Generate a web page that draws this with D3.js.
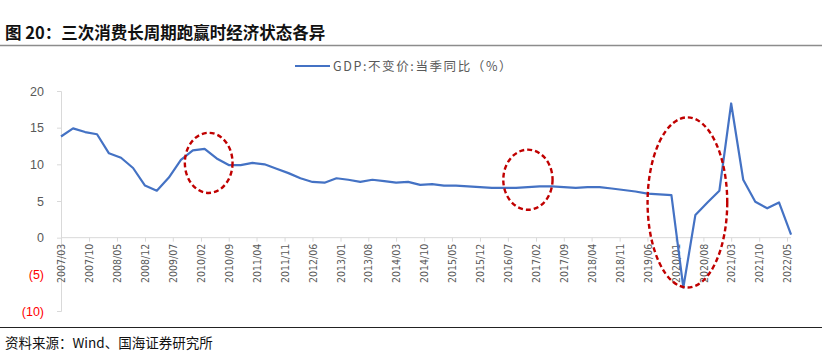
<!DOCTYPE html>
<html>
<head>
<meta charset="utf-8">
<script src="https://cdn.jsdelivr.net/npm/d3@7"></script>
<style>
  body { margin: 0; background: #fff; }
  svg { display: block; }
</style>
</head>
<body>
<svg id="chart"></svg>
<script>
// quarterly GDP yoy, 2007Q1 .. 2022Q2
const quarters = d3.range(0, 62).map(i => {
    const y = 2007 + Math.floor(i / 4), m = (i % 4) * 3 + 3;
    return y + "/" + (m < 10 ? "0" + m : m);
});
const gdpYoy = [
    13.8, 14.9, 14.4, 14.1, 11.5, 10.9, 9.5, 7.1,
    6.4, 8.2, 10.6, 11.9, 12.1, 10.8, 9.9, 9.9,
    10.2, 10.0, 9.4, 8.8, 8.1, 7.6, 7.5, 8.1,
    7.9, 7.6, 7.9, 7.7, 7.5, 7.6, 7.2, 7.3,
    7.1, 7.1, 7.0, 6.9, 6.8, 6.8, 6.8, 6.9,
    7.0, 7.0, 6.9, 6.8, 6.9, 6.9, 6.7, 6.5,
    6.3, 6.0, 5.9, 5.8, -6.8, 3.1, 4.8, 6.4,
    18.3, 7.9, 4.9, 4.0, 4.8, 0.4
];
const yTicks = [-10, -5, 0, 5, 10, 15, 20];
const seriesName = "GDP:不变价:当季同比（%）";

// dashed circles drawn over the three periods
const noteCenters = ["2010/04", "2016/12", "2020/04"];
const noteValues = [10.2, 7.9, 4.8];
const noteHalfMonths = [6, 6.2, 10];
const noteHalfValues = [4.1, 4.1, 11.6];

const width = 824, height = 360;
const parse = d3.timeParse("%Y/%m");
const fmt = d3.timeFormat("%Y/%m");

const svg = d3.select("#chart")
    .attr("width", width)
    .attr("height", height)
    .style("font-family", "'Liberation Sans', Arial, sans-serif");

const x = d3.scaleTime()
    .domain([parse("2007/03"), parse("2022/05")])
    .range([61, 787]);
const y = d3.scaleLinear()
    .domain([-10, 20])
    .range([311, 91]);

// title + rule
svg.append("text")
    .attr("x", 5).attr("y", 39)
    .attr("font-family", "'Noto Sans CJK SC', sans-serif")
    .attr("font-weight", "bold")
    .attr("font-size", 16.5)
    .attr("fill", "#111")
    .text("图 20：三次消费长周期跑赢时经济状态各异");
svg.append("line")
    .attr("x1", 0).attr("x2", 822)
    .attr("y1", 45.5).attr("y2", 45.5)
    .attr("stroke", "#8c8c8c").attr("stroke-width", 1.6);

// legend
svg.append("line")
    .attr("x1", 295).attr("x2", 330)
    .attr("y1", 66).attr("y2", 66)
    .attr("stroke", "#4472C4").attr("stroke-width", 2);
svg.append("text")
    .attr("x", 333).attr("y", 70.5)
    .attr("font-family", "'Noto Sans CJK SC', sans-serif")
    .attr("font-size", 12.5)
    .attr("letter-spacing", 1.6)
    .attr("fill", "#595959")
    .text(seriesName);

// y axis
const yAxis = svg.append("g")
    .attr("transform", "translate(61,0)")
    .call(d3.axisLeft(y).tickValues(yTicks).tickSize(4).tickPadding(13)
        .tickFormat(d => d < 0 ? "(" + Math.abs(d) + ")" : d));
yAxis.select(".domain").attr("stroke", "#d9d9d9");
yAxis.selectAll(".tick line").attr("stroke", "#d9d9d9");
yAxis.selectAll(".tick text")
    .attr("font-size", 12.5)
    .attr("fill", d => d < 0 ? "#ff0000" : "#595959");

// x axis on zero line
const tickDates = d3.range(0, 183, 7).map(k => d3.timeMonth.offset(parse("2007/03"), k));
const xAxis = svg.append("g")
    .attr("transform", "translate(0," + y(0) + ")")
    .call(d3.axisBottom(x).tickValues(tickDates).tickSize(4).tickFormat(fmt));
xAxis.select(".domain").attr("stroke", "#d9d9d9").attr("d", "M61,0H791");
xAxis.selectAll(".tick line").attr("stroke", "#d9d9d9");
xAxis.selectAll(".tick text")
    .attr("font-family", "'Liberation Sans Narrow', 'DejaVu Sans Condensed', sans-serif")
    .attr("font-size", 10.5)
    .attr("fill", "#595959")
    .attr("text-anchor", "end")
    .attr("transform", "rotate(-90)")
    .attr("x", -6).attr("y", 0).attr("dy", "0.35em");

// series line
const line = d3.line()
    .x((d, i) => x(parse(quarters[i])))
    .y(d => y(d));
svg.append("path")
    .datum(gdpYoy)
    .attr("fill", "none")
    .attr("stroke", "#4472C4")
    .attr("stroke-width", 2.2)
    .attr("stroke-linejoin", "round")
    .attr("d", line);

// red dashed ellipses
noteCenters.forEach((c, i) => {
    const d = parse(c);
    const cx = x(d);
    const rx = x(d3.timeDay.offset(d, noteHalfMonths[i] * 30.4)) - cx;
    svg.append("ellipse")
        .attr("cx", cx)
        .attr("cy", y(noteValues[i]))
        .attr("rx", rx)
        .attr("ry", y(0) - y(noteHalfValues[i]))
        .attr("fill", "none")
        .attr("stroke", "#c00000")
        .attr("stroke-width", 2.4)
        .attr("stroke-dasharray", "5,3");
});

// source line
svg.append("line")
    .attr("x1", 0).attr("x2", 822)
    .attr("y1", 327.5).attr("y2", 327.5)
    .attr("stroke", "#222").attr("stroke-width", 1);
svg.append("text")
    .attr("x", 5).attr("y", 348)
    .attr("font-family", "'Noto Sans CJK SC', sans-serif")
    .attr("font-size", 13.5)
    .attr("fill", "#111")
    .text("资料来源：Wind、国海证券研究所");
</script>
</body>
</html>
